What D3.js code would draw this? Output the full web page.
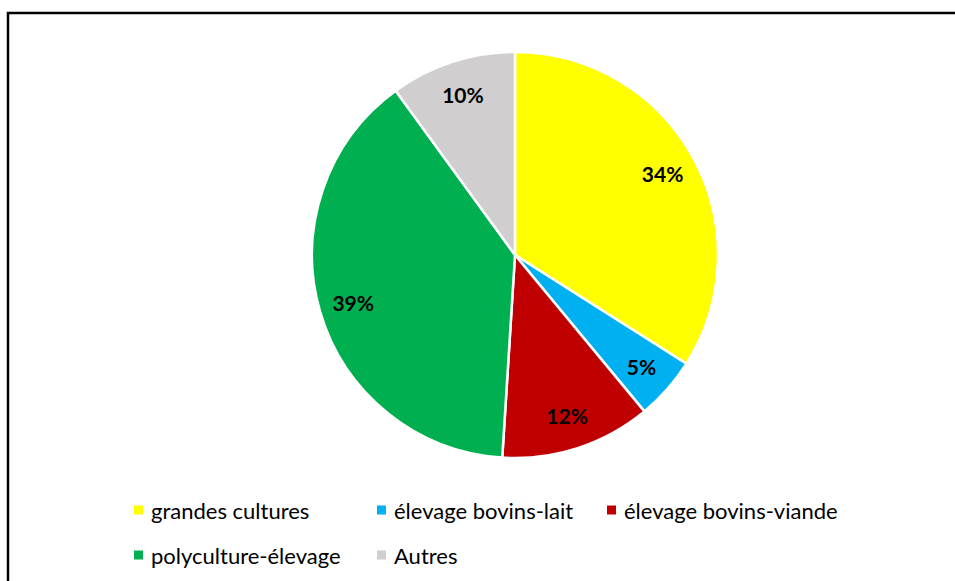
<!DOCTYPE html>
<html>
<head>
<meta charset="utf-8">
<script src="https://cdn.jsdelivr.net/npm/d3@7"></script>
<style>
  html, body { margin: 0; padding: 0; background: #fff; }
  svg { display: block; }
</style>
</head>
<body>
<svg id="chart" width="955" height="581"></svg>
<script>
const categories = ["grandes cultures", "élevage bovins-lait", "élevage bovins-viande", "polyculture-élevage", "Autres"];
const values = [34, 5, 12, 39, 10];
const colors = ["#FFFF00", "#00B0F0", "#C00000", "#00B050", "#D0CECE"];

const svg = d3.select("#chart");

// frame
svg.append("rect")
  .attr("x", 8).attr("y", 13)
  .attr("width", 960).attr("height", 600)
  .attr("fill", "none").attr("stroke", "#000").attr("stroke-width", 2.5);

const cx = 515, cy = 255, R = 203;
const data = categories.map((c, i) => ({ name: c, value: values[i], color: colors[i] }));

const pie = d3.pie().value(d => d.value).sort(null);
const arcs = pie(data);
const arc = d3.arc().innerRadius(0).outerRadius(R);
const labelArc = d3.arc().innerRadius(R * 0.83).outerRadius(R * 0.83);

const g = svg.append("g").attr("transform", `translate(${cx},${cy})`);
g.selectAll("path.slice").data(arcs).enter().append("path")
  .attr("class", "slice")
  .attr("d", arc)
  .attr("fill", d => d.data.color)
  .attr("stroke", "#fff").attr("stroke-width", 2.5)
  .attr("stroke-linejoin", "round");

const fmt = d3.format(".0%");
g.selectAll("text.lbl").data(arcs).enter().append("text")
  .attr("class", "lbl")
  .attr("transform", d => `translate(${labelArc.centroid(d)})`)
  .attr("text-anchor", "middle")
  .attr("dominant-baseline", "central")
  .attr("font-family", "Lato, 'Open Sans', sans-serif")
  .attr("font-weight", "bold")
  .attr("font-size", 21)
  .attr("fill", "#000")
  .text(d => fmt(d.data.value / 100));

// legend
const colX = [134, 377, 607];
const rowY = [510, 555];
const leg = svg.append("g");
data.forEach((d, i) => {
  const col = i % 3, row = Math.floor(i / 3);
  const x = colX[col], y = rowY[row];
  leg.append("rect").attr("x", x).attr("y", y - 4.5).attr("width", 9).attr("height", 9).attr("fill", d.color);
  leg.append("text").attr("x", x + 17).attr("y", y)
    .attr("dominant-baseline", "central")
    .attr("font-family", "Lato, 'Open Sans', sans-serif")
    .attr("font-size", 22)
    .attr("fill", "#000")
    .text(d.name);
});
</script>
</body>
</html>
